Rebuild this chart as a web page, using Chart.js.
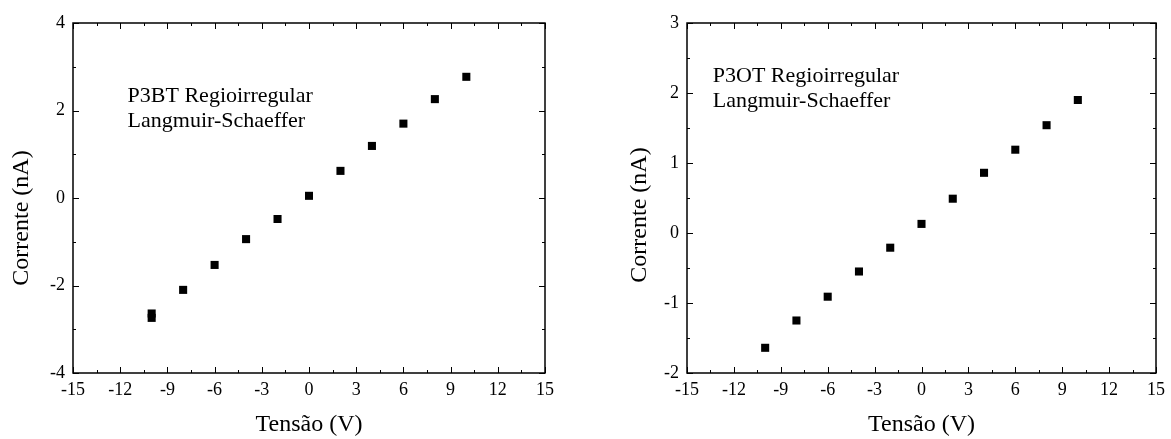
<!DOCTYPE html>
<html>
<head>
<meta charset="utf-8">
<script src="https://cdn.jsdelivr.net/npm/chart.js@4"></script>
<style>
  body { margin: 0; background: #fff; }
  canvas { position: absolute; top: 0; }
  #p3bt { left: 0; }
  #p3ot { left: 590px; }
</style>
</head>
<body>
<canvas id="p3bt" width="560" height="439"></canvas>
<canvas id="p3ot" width="581" height="439"></canvas>
<script>
// curvas I x V, filmes Langmuir-Schaeffer
const p3btTensao = [-10, -10, -8, -6, -4, -2, 0, 2, 4, 6, 8, 10];
const p3btCorrente = [-2.64, -2.74, -2.10, -1.53, -0.94, -0.48, 0.05, 0.62, 1.19, 1.70, 2.26, 2.77];

const p3otTensao = [-10, -8, -6, -4, -2, 0, 2, 4, 6, 8, 10];
const p3otCorrente = [-1.64, -1.25, -0.91, -0.55, -0.21, 0.13, 0.49, 0.86, 1.19, 1.54, 1.90];

const xTitulo = 'Tensão (V)';
const yTitulo = 'Corrente (nA)';

Chart.defaults.font.family = '"Liberation Serif", "Times New Roman", serif';
Chart.defaults.color = '#000';

// moldura com ticks para dentro nos quatro lados, texto e titulo do eixo y
const moldura = {
  id: 'moldura',
  afterDatasetsDraw(chart, args, opts) {
    const { ctx, chartArea: a, scales: { x, y } } = chart;
    const marcas = (scale) => {
      const v = scale.ticks.map(t => t.value);
      const out = v.map(val => ({ val, len: 6 }));
      for (let i = 1; i < v.length; i++) out.push({ val: (v[i - 1] + v[i]) / 2, len: 3 });
      return out;
    };
    ctx.save();
    ctx.strokeStyle = '#000';
    ctx.lineWidth = 1;
    ctx.beginPath();
    marcas(x).forEach(m => {
      const px = Math.round(x.getPixelForValue(m.val)) + 0.5;
      ctx.moveTo(px, a.bottom); ctx.lineTo(px, a.bottom - m.len);
      ctx.moveTo(px, a.top); ctx.lineTo(px, a.top + m.len);
    });
    marcas(y).forEach(m => {
      const py = Math.round(y.getPixelForValue(m.val)) + 0.5;
      ctx.moveTo(a.left, py); ctx.lineTo(a.left + m.len, py);
      ctx.moveTo(a.right, py); ctx.lineTo(a.right - m.len, py);
    });
    ctx.stroke();
    ctx.lineWidth = 1.5;
    ctx.strokeRect(a.left, a.top, a.right - a.left, a.bottom - a.top);

    ctx.fillStyle = '#000';
    ctx.font = '22px "Liberation Serif", serif';
    ctx.textAlign = 'left';
    ctx.textBaseline = 'alphabetic';
    const tx = x.getPixelForValue(opts.at[0]);
    const ty = y.getPixelForValue(opts.at[1]);
    opts.linhas.forEach((s, i) => ctx.fillText(s, tx, ty + i * 25));

    ctx.translate(a.left - opts.gap, (a.top + a.bottom) / 2 + opts.desvio);
    ctx.rotate(-Math.PI / 2);
    ctx.font = '24px "Liberation Serif", serif';
    ctx.textAlign = 'center';
    ctx.textBaseline = 'middle';
    ctx.fillText(yTitulo, 0, 0);
    ctx.restore();
  }
};

function grafico(id, xs, ys, yMin, yMax, yStep, pad, yLargura, notas) {
  return new Chart(document.getElementById(id), {
    type: 'scatter',
    data: {
      datasets: [{
        data: xs.map((v, i) => ({ x: v, y: ys[i] })),
        pointStyle: 'rect',
        pointRadius: 5.7,
        pointHoverRadius: 5.7,
        borderWidth: 0,
        backgroundColor: '#000'
      }]
    },
    options: {
      responsive: false,
      animation: false,
      devicePixelRatio: 1,
      layout: { padding: pad },
      plugins: { legend: { display: false }, tooltip: { enabled: false }, moldura: notas },
      scales: {
        x: {
          type: 'linear', min: -15, max: 15,
          ticks: { stepSize: 3, padding: 6, font: { size: 18 } },
          grid: { display: false, drawTicks: false },
          border: { display: false },
          title: { display: true, text: xTitulo, font: { size: 24 }, padding: { top: 0, bottom: 0 } },
          afterFit: s => { s.height = 66; }
        },
        y: {
          type: 'linear', min: yMin, max: yMax,
          ticks: { stepSize: yStep, padding: 8, font: { size: 18 } },
          grid: { display: false, drawTicks: false },
          border: { display: false },
          afterFit: s => { s.width = yLargura; }
        }
      }
    },
    plugins: [moldura]
  });
}

grafico('p3bt', p3btTensao, p3btCorrente, -4, 4, 2,
  { top: 23, right: 15, left: 0, bottom: 0 }, 73,
  { linhas: ['P3BT Regioirregular', 'Langmuir-Schaeffer'], at: [-11.53, 2.2], gap: 51.5, desvio: 20 });

grafico('p3ot', p3otTensao, p3otCorrente, -2, 3, 1,
  { top: 23, right: 12, left: 0, bottom: 0 }, 97,
  { linhas: ['P3OT Regioirregular', 'Langmuir-Schaeffer'], at: [-13.35, 2.16], gap: 47, desvio: 17 });
</script>
</body>
</html>
